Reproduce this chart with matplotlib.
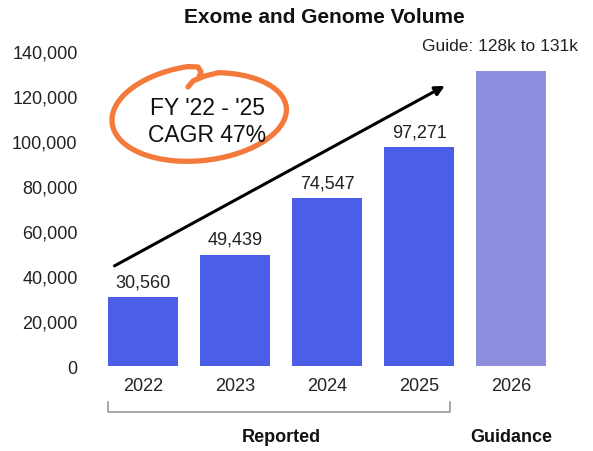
import numpy as np
import matplotlib.pyplot as plt
from matplotlib.lines import Line2D
import matplotlib.transforms as mtransforms

plt.rcParams['font.family'] = ['Liberation Sans', 'DejaVu Sans']

years = ['2022', '2023', '2024', '2025', '2026']
volume = [30560, 49439, 74547, 97271, 131000]
labels = ['30,560', '49,439', '74,547', '97,271', None]
colors = ['#4B5FE6'] * 4 + ['#8E8EDF']

fig = plt.figure(figsize=(5.93, 4.52), dpi=100)
ax = fig.add_axes([0.1636, 0.188, 0.7757, 0.697])

x = np.arange(len(years))
ax.bar(x, volume, width=0.76, color=colors)
for xi, v, lab in zip(x, volume, labels):
    if lab:
        ax.annotate(lab, (xi, v), xytext=(0, 5), textcoords='offset points',
                    ha='center', va='bottom', fontsize=13, color='#222222')

ax.set_xlim(-0.5, 4.5)
ax.set_ylim(0, 140000)
ax.set_yticks(range(0, 140001, 20000))
ax.set_yticklabels([f'{v:,}' for v in range(0, 140001, 20000)])
ax.set_xticks(x)
ax.set_xticklabels(years)
ax.tick_params(axis='y', length=0, pad=14, labelsize=13, labelcolor='#222222')
ax.tick_params(axis='x', length=0, pad=8, labelsize=13, labelcolor='#222222')
for s in ax.spines.values():
    s.set_visible(False)

fig.text(324 / 593, 0.962, 'Exome and Genome Volume', ha='center', va='center',
         fontsize=15, fontweight='bold', color='#111111')

ax.text(3.88, 142500, 'Guide: 128k to 131k', ha='center', va='center',
        fontsize=12.5, color='#222222', clip_on=False)

# growth arrow
ax.annotate('', xy=(3.28, 124500), xytext=(-0.31, 44500),
            arrowprops=dict(arrowstyle='-|>', color='black', lw=2.2,
                            mutation_scale=14, shrinkA=0, shrinkB=0))

# hand drawn orange loop (pixel coords, top-left origin)
W, H = 593, 452
cx, cy = 200, 116
t = np.radians(np.linspace(75, 95 - 360, 300))
rx = np.linspace(86, 89, t.size)
ry = np.linspace(42, 49.5, t.size)
tilt = np.radians(5)
ex = rx * np.cos(t)
ey = ry * np.sin(t)
px = cx + ex * np.cos(tilt) - ey * np.sin(tilt)
py = cy - (ex * np.sin(tilt) + ey * np.cos(tilt))
# pen start and the little hook where it closes
sx, sy = [188, 193, 205], [88, 82, 77]
hx, hy = [198, 201, 199], [68, 73, 78]
px = np.concatenate([sx, px, hx])
py = np.concatenate([sy, py, hy])
fig.add_artist(Line2D(px / W, 1 - py / H, transform=fig.transFigure,
                      color='#F47A3C', lw=3.8, solid_capstyle='round',
                      solid_joinstyle='round'))
fig.text(207 / W, 1 - 122 / H, "FY '22 - '25\nCAGR 47%", ha='center',
         va='center', fontsize=16.5, color='#111111', linespacing=1.27)

# bracket under reported years
tr = mtransforms.blended_transform_factory(ax.transData, ax.transAxes)
ax.plot([-0.38, -0.38, 3.34, 3.34], [-0.114, -0.146, -0.146, -0.114],
        transform=tr, color='#999999', lw=1.2, clip_on=False)
ax.text(1.5, -0.225, 'Reported', transform=tr, ha='center', va='center',
        fontsize=13, fontweight='bold', color='#111111')
ax.text(4.0, -0.225, 'Guidance', transform=tr, ha='center', va='center',
        fontsize=13, fontweight='bold', color='#111111')

fig.savefig('out.png', dpi=100, facecolor='white')
